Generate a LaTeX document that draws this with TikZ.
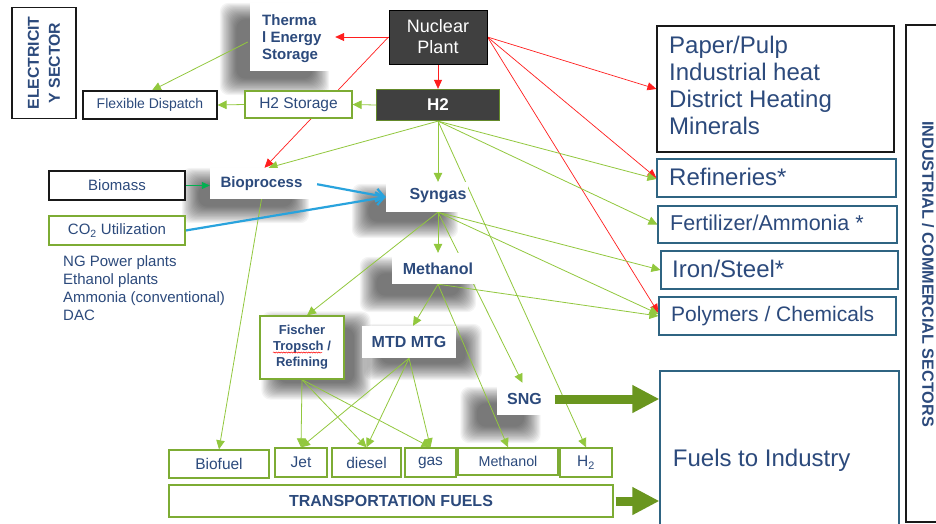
\documentclass[tikz,border=0pt]{standalone}
\usepackage{fontspec}
\setmainfont{Liberation Sans}
\usetikzlibrary{arrows.meta,calc,decorations.pathmorphing}
\pgfdeclarelayer{back}
\pgfdeclarelayer{front}
\pgfsetlayers{back,main,front}

\definecolor{inkblue}{RGB}{44,74,124}
\definecolor{linegreen}{RGB}{146,200,62}
\definecolor{boxgreen}{RGB}{125,172,52}
\definecolor{linered}{RGB}{255,30,30}
\definecolor{skyblue}{RGB}{41,163,221}
\definecolor{fatgreen}{RGB}{106,150,31}
\definecolor{boxteal}{RGB}{47,100,130}
\definecolor{plantgray}{RGB}{64,64,64}
\definecolor{feedgreen}{RGB}{0,176,80}

\newcommand{\fsz}[2]{\fontsize{#1}{#2}\selectfont}
% soft drop shadow behind a node: #1 node, #2/#3 offset (x right, y down)
\newcommand{\haze}[3]{%
  \foreach \k in {0,...,15}{%
    \fill[black, opacity=0.042, rounded corners=9pt]
      ($(#1.south west)+(#2,#3)+(-12+\k*1.1,12-\k*1.1)$) rectangle
      ($(#1.north east)+(#2,#3)+(12-\k*1.1,-12+\k*1.1)$);
  }%
}

\tikzset{
  box/.style={rectangle, inner sep=0pt, fill=white, text=inkblue, line width=1.2pt},
  greenbox/.style={box, draw=boxgreen},
  blackbox/.style={box, draw=black!90},
  tealbox/.style={box, draw=boxteal, line width=1.1pt},
  plate/.style={rectangle, inner sep=0pt, fill=white, text=inkblue, font=\bfseries},
  darkbox/.style={rectangle, inner sep=0pt, fill=plantgray, text=white},
  txt/.style={inner sep=0pt, text=inkblue},
  flow/.style={draw=linegreen, line width=0.8pt, -{Triangle[length=9pt,width=8.5pt]}},
  heat/.style={draw=linered, line width=0.7pt, -{Triangle[length=9pt,width=8pt]}},
  carbon/.style={draw=skyblue, line width=2.2pt, -{Straight Barb[length=8pt,width=13pt]}},
  feed/.style={draw=feedgreen, line width=0.9pt, -{Triangle[length=8pt,width=7pt]}},
  bigarrow/.style={draw=fatgreen, line width=9pt, -{Triangle[length=27pt,width=26pt]}},
}

\begin{document}
\begin{tikzpicture}[x=1pt,y=-1pt]
\useasboundingbox (0,0) rectangle (936,523);

\begin{pgfonlayer}{front}
  % electricity sector
  \node[blackbox, minimum width=64pt, minimum height=111pt] (elec) at (44,63) {};
  \node[txt, rotate=90, align=center, font=\bfseries\fsz{15.8}{21}] (electext) at (elec) {ELECTRICIT\\Y SECTOR};

  \node[plate, minimum width=85pt, minimum height=68pt] (therma) at (292.5,37) {};
  \node[txt, anchor=base west, font=\bfseries\fsz{15}{17}] (th1) at (262,25) {Therma};
  \node[txt, anchor=base west, font=\bfseries\fsz{15}{17}] (th2) at (262,42.5) {l Energy};
  \node[txt, anchor=base west, font=\bfseries\fsz{15}{17}] (th3) at (262,59.5) {Storage};

  \node[darkbox, draw=black, line width=1pt, minimum width=98pt, minimum height=54pt,
        align=center, font=\fsz{18}{21}] (nuc) at (438,37) {Nuclear\\Plant};
  \node[darkbox, draw=boxgreen!80!black, line width=1.3pt, minimum width=123pt,
        minimum height=31pt, font=\bfseries\fsz{17}{20}] (h2) at (438,105) {H2};
  \node[greenbox, minimum width=107pt, minimum height=27pt, font=\fsz{15.5}{18}] (h2s) at (298.5,104.5) {H2 Storage};
  \node[blackbox, minimum width=134pt, minimum height=28pt, font=\fsz{14}{17}] (flex) at (150,105) {Flexible Dispatch};

  % feedstocks
  \node[blackbox, minimum width=136pt, minimum height=29pt, font=\fsz{15}{18}] (biomass) at (117,185.5) {Biomass};
  \node[greenbox, minimum width=136pt, minimum height=29pt, font=\fsz{15}{18}] (co2) at (117,230.5) {CO\textsubscript{2} Utilization};
  \node[txt, anchor=base west, font=\fsz{15}{18}] (src1) at (63,266.7) {NG Power plants};
  \node[txt, anchor=base west, font=\fsz{15}{18}] (src2) at (63,284.5) {Ethanol plants};
  \node[txt, anchor=base west, font=\fsz{15}{18}] (src3) at (63,302.3) {Ammonia (conventional)};
  \node[txt, anchor=base west, font=\fsz{15}{18}] (src4) at (63,320.1) {DAC};

  % conversion steps
  \node[plate, minimum width=103pt, minimum height=31pt, font=\bfseries\fsz{15}{18}] (bio) at (261.5,183.5) {Bioprocess};
  \node[plate, minimum width=82pt, minimum height=30pt] (syn) at (427,197) {};
  \node[txt, font=\bfseries\fsz{16}{19}] (syntext) at (438,196) {Syngas};
  \node[plate, minimum width=92pt, minimum height=31pt, font=\bfseries\fsz{16}{19}] (meth) at (438,268.5) {Methanol};
  \node[plate, minimum width=94pt, minimum height=32pt, font=\bfseries\fsz{16}{19}] (mtd) at (409,342) {MTD MTG};
  \node[plate, minimum width=56pt, minimum height=32pt, font=\bfseries\fsz{16}{19}] (sng) at (524.5,399) {SNG};
  \node[greenbox, minimum width=84pt, minimum height=63pt, align=center,
        font=\bfseries\fsz{13}{16}] (fischer) at (302,347.5) {Fischer\\Tropsch /\\Refining};
  \draw[red, line width=0.5pt, decorate, decoration={snake, amplitude=0.6pt, segment length=2.5pt}]
    ($(fischer.center)+(-29,5)$) -- ($(fischer.center)+(20,5)$);

  % industrial users
  \node[blackbox, minimum width=237pt, minimum height=126pt] (paper) at (775.5,89) {};
  \node[txt, anchor=base west, font=\fsz{24}{27}] (pp1) at (669,53.3) {Paper/Pulp};
  \node[txt, anchor=base west, font=\fsz{24}{27}] (pp2) at (669,80.5) {Industrial heat};
  \node[txt, anchor=base west, font=\fsz{24}{27}] (pp3) at (669,107.7) {District Heating};
  \node[txt, anchor=base west, font=\fsz{24}{27}] (pp4) at (669,134.9) {Minerals};

  \node[tealbox, minimum width=239pt, minimum height=38pt] (ref) at (776.5,178) {};
  \node[txt, anchor=base west, font=\fsz{24}{27}] (reftext) at (669,185) {Refineries*};
  \node[tealbox, minimum width=239pt, minimum height=37pt] (fert) at (777.5,224.5) {};
  \node[txt, anchor=base west, font=\fsz{21.5}{25}] (ferttext) at (670,230) {Fertilizer/Ammonia *};
  \node[tealbox, minimum width=237pt, minimum height=38pt] (iron) at (779.5,270) {};
  \node[txt, anchor=base west, font=\fsz{24}{27}] (irontext) at (672,277.7) {Iron/Steel*};
  \node[tealbox, minimum width=237pt, minimum height=38pt] (poly) at (777.5,316) {};
  \node[txt, anchor=base west, font=\fsz{21}{25}] (polytext) at (671,321.7) {Polymers / Chemicals};
  \node[tealbox, minimum width=239pt, minimum height=170pt] (fuels) at (779.5,456) {};
  \node[txt, anchor=base west, font=\fsz{24}{27}] (fuelstext) at (672.7,466.7) {Fuels to Industry};

  \node[blackbox, minimum width=40pt, minimum height=497pt] (ind) at (926,273.5) {};
  \node[txt, rotate=-90, font=\bfseries\fsz{16.2}{18}] (indtext) at (928,274) {INDUSTRIAL / COMMERCIAL SECTORS};

  % transportation fuels
  \node[greenbox, line width=1.4pt, minimum width=100pt, minimum height=28pt, font=\fsz{15.5}{18}] (biofuel) at (219,464) {Biofuel};
  \node[greenbox, line width=1.4pt, minimum width=52pt, minimum height=29pt, font=\fsz{15.5}{18}] (jet) at (301,462.5) {Jet};
  \node[greenbox, line width=1.4pt, minimum width=69pt, minimum height=29pt, font=\fsz{15.5}{18}] (diesel) at (366.5,462.5) {diesel};
  \node[greenbox, line width=1.4pt, minimum width=51pt, minimum height=29pt, font=\fsz{15.5}{18}] (gas) at (430.5,462.5) {gas};
  \node[greenbox, line width=1.4pt, minimum width=100pt, minimum height=27pt, font=\fsz{14.3}{17}] (methb) at (508,461.5) {Methanol};
  \node[greenbox, line width=1.4pt, minimum width=52pt, minimum height=29pt, font=\fsz{15.5}{18}] (h2b) at (586,462.5) {H\textsubscript{2}};
  \node[greenbox, line width=1.4pt, minimum width=444pt, minimum height=32pt, font=\bfseries\fsz{16}{19}] (trans) at (391,501) {TRANSPORTATION FUELS};
\end{pgfonlayer}

\begin{pgfonlayer}{back}
  \fill[white] (0,0) rectangle (936,523);
  \haze{therma}{-18}{12}
  \haze{bio}{-16}{12}
  \haze{syn}{-22}{14}
  \haze{meth}{-20}{16}
  \haze{mtd}{14}{10}
  \haze{fischer}{14}{8}
  \haze{sng}{-24}{16}
\end{pgfonlayer}

% heat from the plant
\draw[heat] (nuc.west) -- (therma.east);
\draw[heat] (nuc.west) -- ($(bio.north)+(3,0)$);
\draw[heat] (nuc.south) -- (h2.north);
\draw[heat] (nuc.east) -- (paper.west);
\draw[heat] (nuc.east) -- (ref.west);
\draw[heat] (nuc.east) -- ($(poly.west)+(0,-3)$);

% hydrogen
\draw[flow] (h2.west) -- (h2s.east);
\draw[flow] (h2s.west) -- (flex.east);
\draw[flow] ($(therma.west)+(-2,5)$) -- ($(flex.north)+(2,0)$);
\draw[flow] (h2.south) -- ($(bio.north)+(7,0)$);
\draw[flow] (h2.south) -- (syntext |- syn.north);
\draw[flow] (h2.south) -- (h2b.north);
\draw[flow] (h2.south) -- ($(ref.west)+(0,1)$);
\draw[flow] (h2.south) -- (fert.west);

% syngas
\coordinate (synout) at (syntext |- syn.south);
\draw[flow] (synout) -- (meth.north);
\draw[flow] (synout) -- ($(fischer.north)+(5,0)$);
\draw[flow] (synout) -- ($(sng.north)+(-2,0)$);
\draw[flow] (synout) -- (iron.west);
\draw[flow] (synout) -- ($(poly.west)+(0,-2)$);

% methanol
\draw[flow] (meth.south) -- ($(mtd.north)+(4,0)$);
\draw[flow] (meth.south) -- (methb.north);
\draw[flow] (meth.south) -- (poly.west);

% drop-in fuels
\foreach \t in {jet,diesel,gas}{
  \draw[flow] (mtd.south) -- (\t.north);
  \draw[flow] (fischer.south) -- (\t.north);
}
\draw[flow] (bio.south) -- (biofuel.north);

% feedstock and carbon
\draw[feed] (biomass.east) -- (biomass.east -| bio.west);
\draw[carbon, shorten <=4pt] (bio.east) -- (syn.west);
\draw[carbon] (co2.east) -- (syn.west);

% bulk fuel deliveries
\draw[bigarrow, shorten <=2pt] (sng.east) -- (sng.east -| fuels.west);
\draw[bigarrow, shorten <=2pt] (trans.east) -- (trans.east -| fuels.west);
\end{tikzpicture}
\end{document}
